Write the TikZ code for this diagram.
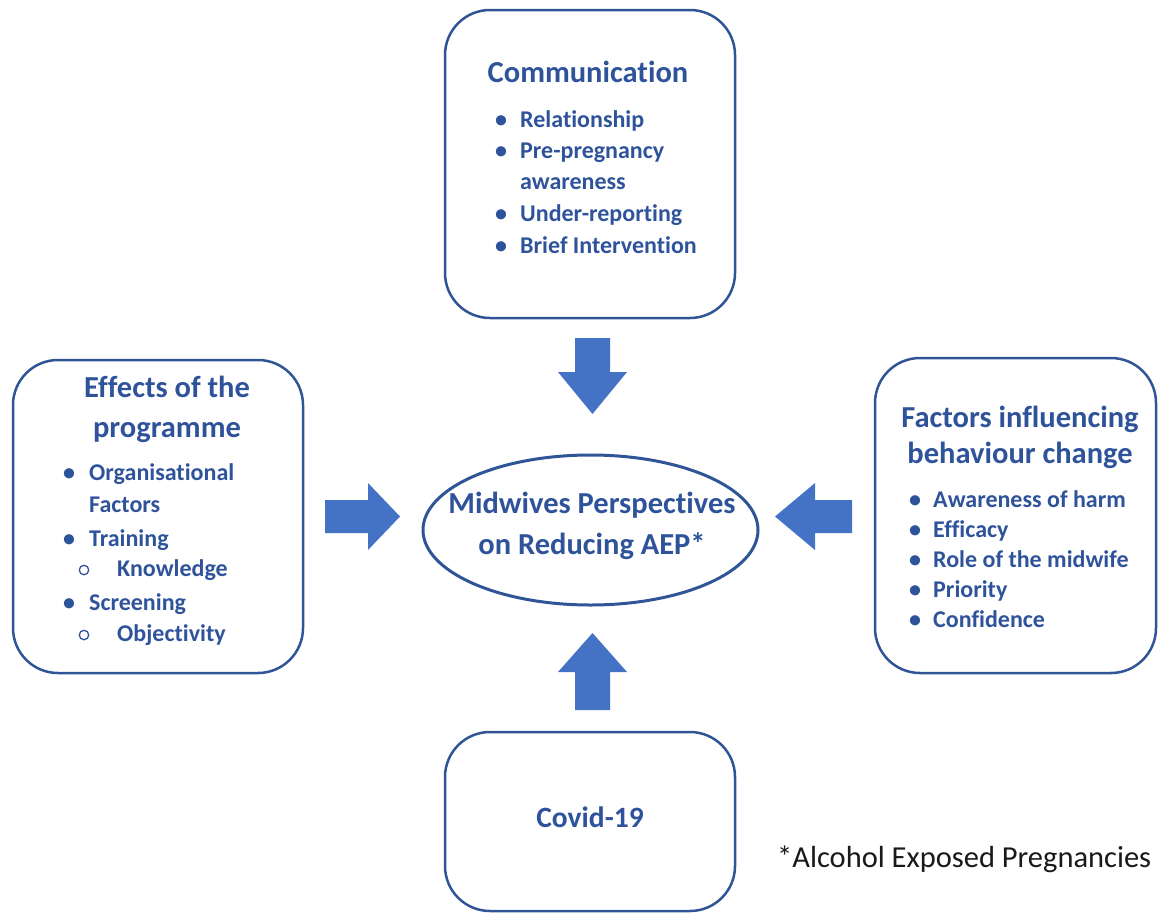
\documentclass[tikz,border=0pt]{standalone}
\usepackage{fontspec}
\setmainfont{Carlito}[Ligatures=NoCommon]
\usetikzlibrary{shapes.geometric}
\definecolor{boxblue}{HTML}{2F5597}
\definecolor{txtblue}{HTML}{2F539B}
\definecolor{arrowblue}{HTML}{4472C4}
\tikzset{
  panel/.style={draw=boxblue, line width=2.5pt, rounded corners=45pt, inner sep=0pt},
  headtxt/.style={font=\fontsize{30.5}{36}\selectfont\bfseries, text=txtblue, inner sep=0pt, anchor=base},
  itemtxt/.style={font=\fontsize{24}{29}\selectfont\bfseries, text=txtblue, anchor=base west, inner sep=0pt},
  bul/.style={font=\fontsize{24}{29}\selectfont\bfseries, text=txtblue, anchor=base, inner sep=0pt},
  subbul/.style={circle, draw=txtblue, line width=1.3pt, minimum size=9.5pt, inner sep=0pt},
  blockarrow/.style={fill=arrowblue, draw=none}
}
\begin{document}
\begin{tikzpicture}[x=1pt,y=-1pt]
\useasboundingbox (0,0) rectangle (1158,913);

% panels
\node[panel, minimum width=290pt, minimum height=308pt] (comm) at (590,164) {};
\node[panel, minimum width=290pt, minimum height=313pt] (effects) at (158,516.5) {};
\node[panel, minimum width=281pt, minimum height=315pt] (factors) at (1015.5,515.5) {};
\node[panel, minimum width=290pt, minimum height=179pt] (covid) at (590,821.5) {};
\node[ellipse, draw=boxblue, line width=3pt, minimum width=335pt, minimum height=150pt, inner sep=0pt] (centre) at (590.5,530) {};

% top panel text
\node[headtxt] (commh) at (588,82) {Communication};
\node[bul] (cb1) at (501,127) {•};
\node[itemtxt] (ct1) at (520,127) {Relationship};
\node[bul] (cb2) at (501,158) {•};
\node[itemtxt] (ct2) at (520,158) {Pre-pregnancy};
\node[itemtxt] (ct3) at (520,189) {awareness};
\node[bul] (cb4) at (501,221) {•};
\node[itemtxt] (ct4) at (520,221) {Under-reporting};
\node[bul] (cb5) at (501,253) {•};
\node[itemtxt] (ct5) at (520,253) {Brief Intervention};

% left panel text
\node[headtxt] (effh1) at (167,397) {Effects of the};
\node[headtxt] (effh2) at (167,437) {programme};
\node[bul] (eb1) at (69,480) {•};
\node[itemtxt] (et1) at (89,480) {Organisational};
\node[itemtxt] (et2) at (89,512) {Factors};
\node[bul] (eb3) at (69,546) {•};
\node[itemtxt] (et3) at (89,546) {Training};
\node[subbul] (es4) at (84,570) {};
\node[itemtxt] (et4) at (117,576) {Knowledge};
\node[bul] (eb5) at (69,610) {•};
\node[itemtxt] (et5) at (89,610) {Screening};
\node[subbul] (es6) at (84,635) {};
\node[itemtxt] (et6) at (117,641) {Objectivity};

% right panel text
\node[headtxt] (fach1) at (1020,427) {Factors influencing};
\node[headtxt] (fach2) at (1020,463) {behaviour change};
\node[bul] (fb1) at (915,507) {•};
\node[itemtxt] (ft1) at (933,507) {Awareness of harm};
\node[bul] (fb2) at (915,537) {•};
\node[itemtxt] (ft2) at (933,537) {Efficacy};
\node[bul] (fb3) at (915,567) {•};
\node[itemtxt] (ft3) at (933,567) {Role of the midwife};
\node[bul] (fb4) at (915,597) {•};
\node[itemtxt] (ft4) at (933,597) {Priority};
\node[bul] (fb5) at (915,627) {•};
\node[itemtxt] (ft5) at (933,627) {Confidence};

% centre text
\node[headtxt] (ctr1) at (592,513) {Midwives Perspectives};
\node[headtxt] (ctr2) at (592,554) {on Reducing AEP*};

% bottom
\node[headtxt, font=\fontsize{29.5}{35}\selectfont\bfseries] (covidt) at (590,827) {Covid-19};

% footnote
\node[font=\fontsize{30.5}{36}\selectfont, text=black!90, anchor=base west, inner sep=0pt] (foot) at (777,867) {*Alcohol Exposed Pregnancies};

% block arrows
\fill[blockarrow] (575,338) -- (610,338) -- (610,372) -- (627,372) -- (592.5,414) -- (558,372) -- (575,372) -- cycle;
\fill[blockarrow] (575,710) -- (610,710) -- (610,672) -- (627,672) -- (592.5,633) -- (558,672) -- (575,672) -- cycle;
\fill[blockarrow] (325,500) -- (368,500) -- (368,483) -- (400,516.5) -- (368,550) -- (368,533) -- (325,533) -- cycle;
\fill[blockarrow] (852,500) -- (815,500) -- (815,483) -- (775,516.5) -- (815,550) -- (815,533) -- (852,533) -- cycle;
\end{tikzpicture}
\end{document}
